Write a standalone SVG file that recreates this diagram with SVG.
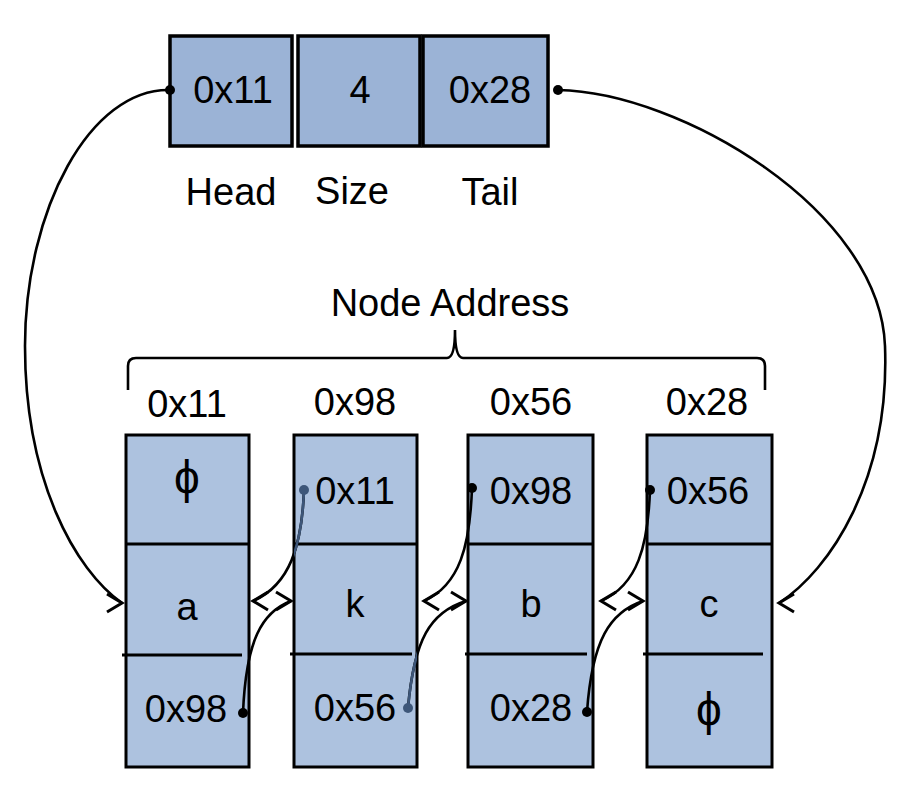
<svg xmlns="http://www.w3.org/2000/svg" width="898" height="808" viewBox="0 0 898 808">
<style>
text{font-family:"Liberation Sans",Arial,sans-serif;font-size:38px;fill:#000;text-anchor:middle}
text.phi{font-size:46px}
.top{fill:#9bb3d6;stroke:#000;stroke-width:3.5}
.nd{fill:#adc2df;stroke:#000;stroke-width:3}
.div{stroke:#000;stroke-width:3}
.ln{fill:none;stroke:#000;stroke-width:2.6}
.dk{fill:none;stroke:#3d5679;stroke-width:2.6}
.dot{fill:#000}
.dotb{fill:#3d5679}
</style>
<defs>
<marker id="ahR" markerUnits="userSpaceOnUse" viewBox="-20 -14 26 28" markerWidth="26" markerHeight="28" refX="0" refY="0" orient="0" overflow="visible"><path d="M-15,-9 L0,0 L-15,9" fill="none" stroke="#000" stroke-width="3"/></marker>
<marker id="ahL" markerUnits="userSpaceOnUse" viewBox="-20 -14 26 28" markerWidth="26" markerHeight="28" refX="0" refY="0" orient="180" overflow="visible"><path d="M-15,-9 L0,0 L-15,9" fill="none" stroke="#000" stroke-width="3"/></marker>
<clipPath id="n2clip"><rect x="294" y="435" width="123" height="332"/></clipPath>
</defs>

<g id="list-header">
<rect class="top" x="170" y="36" width="122" height="110"/>
<rect class="top" x="298" y="36" width="122" height="110"/>
<rect class="top" x="423" y="36" width="125" height="110"/>
<text x="233" y="103">0x11</text>
<text x="360" y="103">4</text>
<text x="490" y="103">0x28</text>
<text x="231" y="205">Head</text>
<text x="352" y="204">Size</text>
<text x="490" y="205">Tail</text>
</g>

<g id="node-address">
<text x="450" y="316">Node Address</text>
<path class="ln" d="M128,390 L128,366 Q128,358 136,358 L447,358 Q455,358 455,330 Q455,358 463,358 L757,358 Q765,358 765,366 L765,390" stroke-width="2.8"/>
<text x="187" y="417">0x11</text>
<text x="355" y="415">0x98</text>
<text x="531" y="415">0x56</text>
<text x="707" y="415">0x28</text>
</g>

<g id="node-0x11">
<rect class="nd" x="126" y="435" width="123" height="332"/>
<line class="div" x1="126" y1="544" x2="249" y2="544"/>
<line class="div" x1="122" y1="655" x2="242" y2="655"/>
<text class="phi" x="187" y="493">ϕ</text>
<text x="187" y="620">a</text>
<text x="186" y="722">0x98</text>
</g>
<g id="node-0x98">
<rect class="nd" x="294" y="435" width="123" height="332"/>
<line class="div" x1="294" y1="544" x2="417" y2="544"/>
<line class="div" x1="290" y1="654" x2="412" y2="654"/>
<text x="355" y="504">0x11</text>
<text x="355" y="617">k</text>
<text x="355" y="721">0x56</text>
</g>
<g id="node-0x56">
<rect class="nd" x="468" y="435" width="125" height="332"/>
<line class="div" x1="468" y1="544" x2="593" y2="544"/>
<line class="div" x1="465" y1="654" x2="587" y2="654"/>
<text x="531" y="504">0x98</text>
<text x="531" y="617">b</text>
<text x="531" y="721">0x28</text>
</g>
<g id="node-0x28">
<rect class="nd" x="647" y="435" width="125" height="332"/>
<line class="div" x1="647" y1="544" x2="772" y2="544"/>
<line class="div" x1="643" y1="654" x2="763" y2="654"/>
<text x="708" y="504">0x56</text>
<text x="709" y="617">c</text>
<text class="phi" x="709" y="725">ϕ</text>
</g>

<g id="connectors">
<path class="ln" d="M170,90 C90,88 25,210 25,346 C25,480 75,570 122,603" marker-end="url(#ahR)"/>
<path class="ln" d="M558,90 C680,92 880,210 885,346 C890,480 830,570 779,603" marker-end="url(#ahL)"/>
<path class="ln" d="M304,490 C302,545 290,585 253,601" marker-end="url(#ahL)"/>
<path class="ln" d="M243,713 C246,640 262,612 291,601" marker-end="url(#ahR)"/>
<path class="ln" d="M472,488 C470,545 460,585 424,601" marker-end="url(#ahL)"/>
<path class="ln" d="M408,708 C414,640 430,612 466,601" marker-end="url(#ahR)"/>
<path class="ln" d="M650,490 C648,545 638,585 601,601" marker-end="url(#ahL)"/>
<path class="ln" d="M587,712 C592,640 610,612 643,601" marker-end="url(#ahR)"/>
<g clip-path="url(#n2clip)">
<path class="dk" d="M304,490 C302,545 290,585 253,601"/>
<path class="dk" d="M408,708 C414,640 430,612 466,601"/>
</g>
<circle class="dot" cx="170" cy="90" r="5"/>
<circle class="dot" cx="558" cy="90" r="5"/>
<circle class="dotb" cx="304" cy="490" r="5"/>
<circle class="dot" cx="243" cy="713" r="5"/>
<circle class="dot" cx="472" cy="488" r="5"/>
<circle class="dotb" cx="408" cy="708" r="5"/>
<circle class="dot" cx="650" cy="490" r="5"/>
<circle class="dot" cx="587" cy="712" r="5"/>
</g>
</svg>
